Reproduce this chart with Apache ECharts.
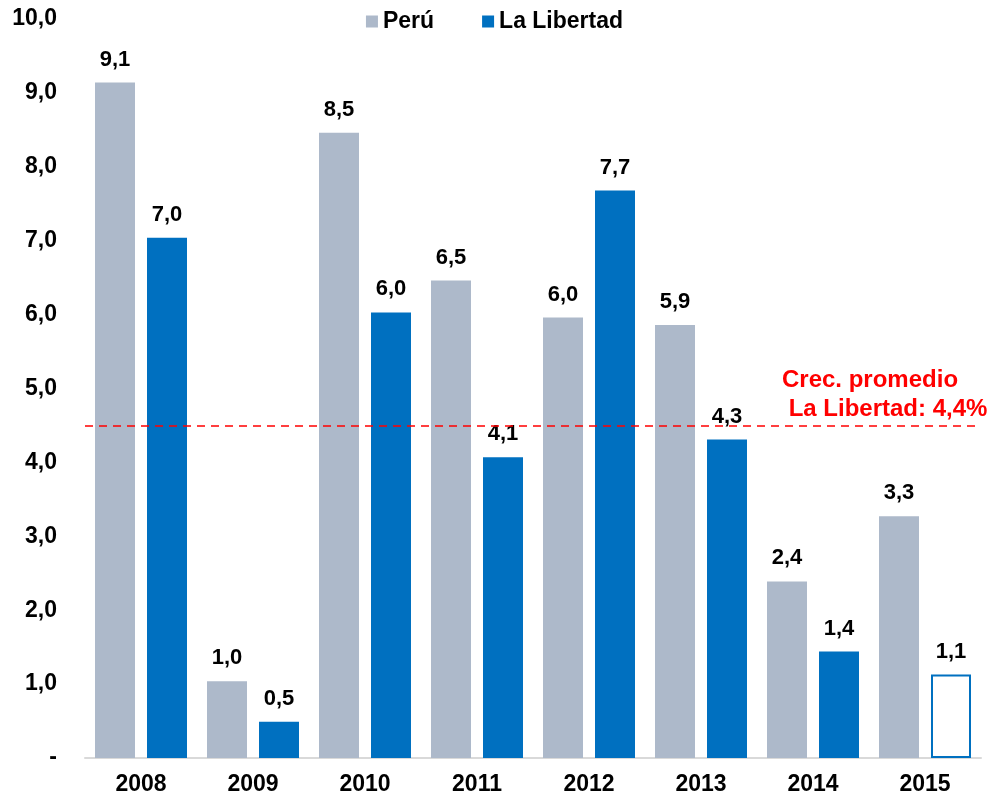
<!DOCTYPE html>
<html>
<head>
<meta charset="utf-8">
<script src="https://cdn.jsdelivr.net/npm/echarts@6/dist/echarts.min.js"></script>
<style>
    html, body { margin: 0; padding: 0; background: #fff; }
    #chart { width: 989px; height: 798px; }
</style>
</head>
<body>
<div id="chart"></div>
<script>
// datos
const years = ['2008', '2009', '2010', '2011', '2012', '2013', '2014', '2015'];
const peru = [9.14, 1.04, 8.46, 6.46, 5.96, 5.86, 2.39, 3.27];
const laLibertad = [7.04, 0.49, 6.03, 4.07, 7.68, 4.31, 1.44, 1.13];
const promedio = 4.5;

const FONT = 'Liberation Sans, Arial, sans-serif';

function fmt(v) {
    return v.toFixed(1).replace('.', ',');
}

const chart = echarts.init(document.getElementById('chart'));

// 2015 La Libertad: barra sin relleno
const libData = laLibertad.map(function(v, i) {
    if (i === laLibertad.length - 1) {
        return { value: v, itemStyle: { color: '#ffffff', borderColor: '#0070C0', borderWidth: 2 } };
    }
    return v;
});

const labelStyle = {
    show: true,
    position: 'top',
    distance: 12,
    fontSize: 22,
    fontWeight: 'bold',
    color: '#000',
    fontFamily: FONT,
    formatter: function(p) { return fmt(p.value); }
};

const option = {
    animation: false,
    textStyle: { fontFamily: FONT },
    legend: {
        top: 5,
        left: 'center',
        itemWidth: 12,
        itemHeight: 12,
        itemGap: 48,
        icon: 'rect',
        textStyle: { fontSize: 23, fontWeight: 'bold', color: '#000', fontFamily: FONT },
        data: ['Perú', 'La Libertad']
    },
    grid: {
        left: 85,
        right: 8,
        top: 19,
        bottom: 40
    },
    xAxis: {
        type: 'category',
        data: years,
        axisLine: { lineStyle: { color: '#d9d9d9', width: 2 } },
        axisTick: { show: false },
        axisLabel: { fontSize: 23, fontWeight: 'bold', color: '#000', margin: 15, fontFamily: FONT }
    },
    yAxis: {
        type: 'value',
        min: 0,
        max: 10,
        interval: 1,
        splitLine: { show: false },
        axisLine: { show: false },
        axisTick: { show: false },
        axisLabel: {
            fontSize: 23,
            fontWeight: 'bold',
            color: '#000',
            margin: 28,
            fontFamily: FONT,
            formatter: function(v) { return v === 0 ? '-' : fmt(v); }
        }
    },
    series: [
        {
            name: 'Perú',
            type: 'bar',
            data: peru,
            barWidth: 40,
            barGap: '30%',
            itemStyle: { color: '#ADB9CA' },
            label: labelStyle
        },
        {
            name: 'La Libertad',
            type: 'bar',
            data: libData,
            barWidth: 40,
            itemStyle: { color: '#0070C0' },
            label: labelStyle,
            markLine: {
                silent: true,
                symbol: 'none',
                lineStyle: { color: '#FF0000', type: [8, 6], width: 1.5 },
                label: { show: false },
                data: [{ yAxis: promedio }]
            }
        }
    ],
    graphic: [
        {
            type: 'text',
            left: 782,
            top: 366,
            style: {
                text: 'Crec. promedio\n La Libertad: 4,4%',
                fill: '#FF0000',
                font: 'bold 24px ' + FONT,
                lineHeight: 29
            }
        }
    ]
};

chart.setOption(option);
window.addEventListener('resize', () => chart.resize());
</script>
</body>
</html>
